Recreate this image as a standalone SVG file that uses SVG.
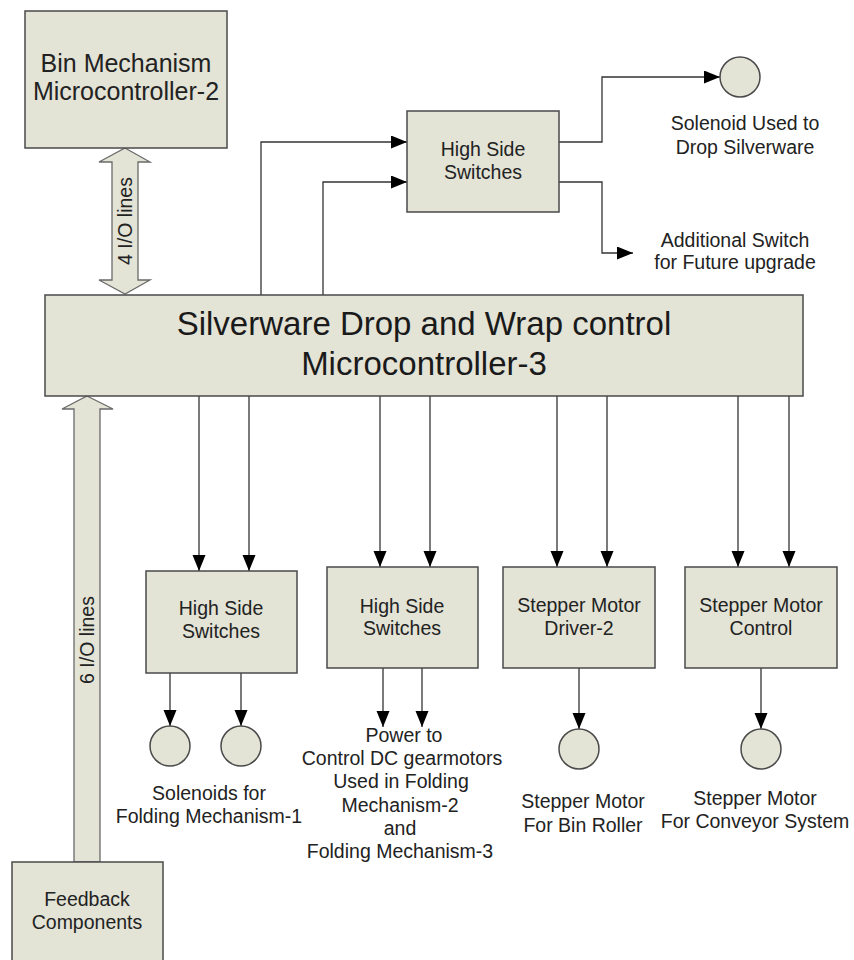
<svg xmlns="http://www.w3.org/2000/svg" width="854" height="960" viewBox="0 0 854 960">
<defs>
<style>
.box{fill:#e3e3d6;stroke:#4a4a4a;stroke-width:1.5}
.big{fill:#e3e3d6;stroke:#6a6a6a;stroke-width:1.3}
.t{font-family:"Liberation Sans",Arial,sans-serif;font-size:19.5px;fill:#222;text-anchor:middle}
.tm{font-family:"Liberation Sans",Arial,sans-serif;font-size:33px;fill:#1a1a1a;text-anchor:middle}
.tb{font-family:"Liberation Sans",Arial,sans-serif;font-size:25px;fill:#222;text-anchor:middle}
.c{fill:none;stroke:#333;stroke-width:1.3}
</style>
<marker id="ah" markerUnits="userSpaceOnUse" markerWidth="17" markerHeight="14" refX="16" refY="6.5" orient="auto">
<path d="M0,0 L16,6.5 L0,13 z" fill="#000"/>
</marker>
</defs>
<rect width="854" height="960" fill="#fff"/>

<g id="connectors">
<path class="c" d="M261,295 V142 H407" marker-end="url(#ah)"/>
<path class="c" d="M323,295 V182 H407" marker-end="url(#ah)"/>
<path class="c" d="M559,142 H602 V77 H720" marker-end="url(#ah)"/>
<path class="c" d="M559,182 H602 V253 H633" marker-end="url(#ah)"/>
<path class="c" d="M199,396 V571" marker-end="url(#ah)"/>
<path class="c" d="M249,396 V571" marker-end="url(#ah)"/>
<path class="c" d="M380,396 V567" marker-end="url(#ah)"/>
<path class="c" d="M430,396 V567" marker-end="url(#ah)"/>
<path class="c" d="M557,396 V567" marker-end="url(#ah)"/>
<path class="c" d="M607,396 V567" marker-end="url(#ah)"/>
<path class="c" d="M738,396 V567" marker-end="url(#ah)"/>
<path class="c" d="M789,396 V567" marker-end="url(#ah)"/>
<path class="c" d="M170,673 V726" marker-end="url(#ah)"/>
<path class="c" d="M241,673 V726" marker-end="url(#ah)"/>
<path class="c" d="M383,668 V727" marker-end="url(#ah)"/>
<path class="c" d="M422,668 V727" marker-end="url(#ah)"/>
<path class="c" d="M579,668 V729" marker-end="url(#ah)"/>
<path class="c" d="M761,668 V729" marker-end="url(#ah)"/>
</g>

<g id="io4">
<polygon class="big" points="125,148 150,162 138,162 138,280 150,280 125,294 99,280 112,280 112,162 99,162"/>
<text class="t" transform="translate(132,221) rotate(-90)">4 I/O lines</text>
</g>
<g id="io6">
<polygon class="big" points="87,396 113,409 100,409 100,862 74,862 74,409 62,409"/>
<text class="t" transform="translate(94,640) rotate(-90)">6 I/O lines</text>
</g>

<g id="bin">
<rect class="box" x="25" y="11" width="202" height="137"/>
<text class="tb" x="126" y="72">Bin Mechanism</text>
<text class="tb" x="126" y="100">Microcontroller-2</text>
</g>

<g id="main">
<rect class="box" x="45" y="295" width="758" height="101"/>
<text class="tm" x="424" y="335">Silverware Drop and Wrap control</text>
<text class="tm" x="424" y="375">Microcontroller-3</text>
</g>

<g id="hss-top">
<rect class="box" x="407" y="111" width="152" height="101"/>
<text class="t" x="483" y="156">High Side</text>
<text class="t" x="483" y="179">Switches</text>
</g>

<g id="sol-drop">
<circle class="box" cx="740" cy="77" r="20"/>
<text class="t" x="745" y="130">Solenoid Used to</text>
<text class="t" x="745" y="154">Drop Silverware</text>
</g>

<g id="additional">
<text class="t" x="735" y="247">Additional Switch</text>
<text class="t" x="735" y="269">for Future upgrade</text>
</g>

<g id="hss1">
<rect class="box" x="146" y="571" width="151" height="102"/>
<text class="t" x="221" y="615">High Side</text>
<text class="t" x="221" y="638">Switches</text>
</g>
<g id="sol1">
<circle class="box" cx="170" cy="746" r="20"/>
<circle class="box" cx="241" cy="746" r="20"/>
<text class="t" x="209" y="800">Solenoids for</text>
<text class="t" x="209" y="823">Folding Mechanism-1</text>
</g>

<g id="hss2">
<rect class="box" x="327" y="567" width="151" height="101"/>
<text class="t" x="402" y="613">High Side</text>
<text class="t" x="402" y="635">Switches</text>
</g>
<g id="power">
<text class="t" x="404" y="742">Power to</text>
<text class="t" x="402" y="765">Control DC gearmotors</text>
<text class="t" x="401" y="788">Used in Folding</text>
<text class="t" x="400" y="812">Mechanism-2</text>
<text class="t" x="400" y="835">and</text>
<text class="t" x="400" y="858">Folding Mechanism-3</text>
</g>

<g id="sd2">
<rect class="box" x="503" y="567" width="152" height="101"/>
<text class="t" x="579" y="612">Stepper Motor</text>
<text class="t" x="579" y="635">Driver-2</text>
</g>
<g id="bin-roller">
<circle class="box" cx="579" cy="749" r="20"/>
<text class="t" x="583" y="808">Stepper Motor</text>
<text class="t" x="583" y="832">For Bin Roller</text>
</g>

<g id="smc">
<rect class="box" x="685" y="567" width="152" height="101"/>
<text class="t" x="761" y="612">Stepper Motor</text>
<text class="t" x="761" y="635">Control</text>
</g>
<g id="conveyor">
<circle class="box" cx="761" cy="749" r="20"/>
<text class="t" x="755" y="805">Stepper Motor</text>
<text class="t" x="755" y="828">For Conveyor System</text>
</g>

<g id="feedback">
<rect class="box" x="12" y="862" width="151" height="110"/>
<text class="t" x="87" y="906">Feedback</text>
<text class="t" x="87" y="929">Components</text>
</g>
</svg>
